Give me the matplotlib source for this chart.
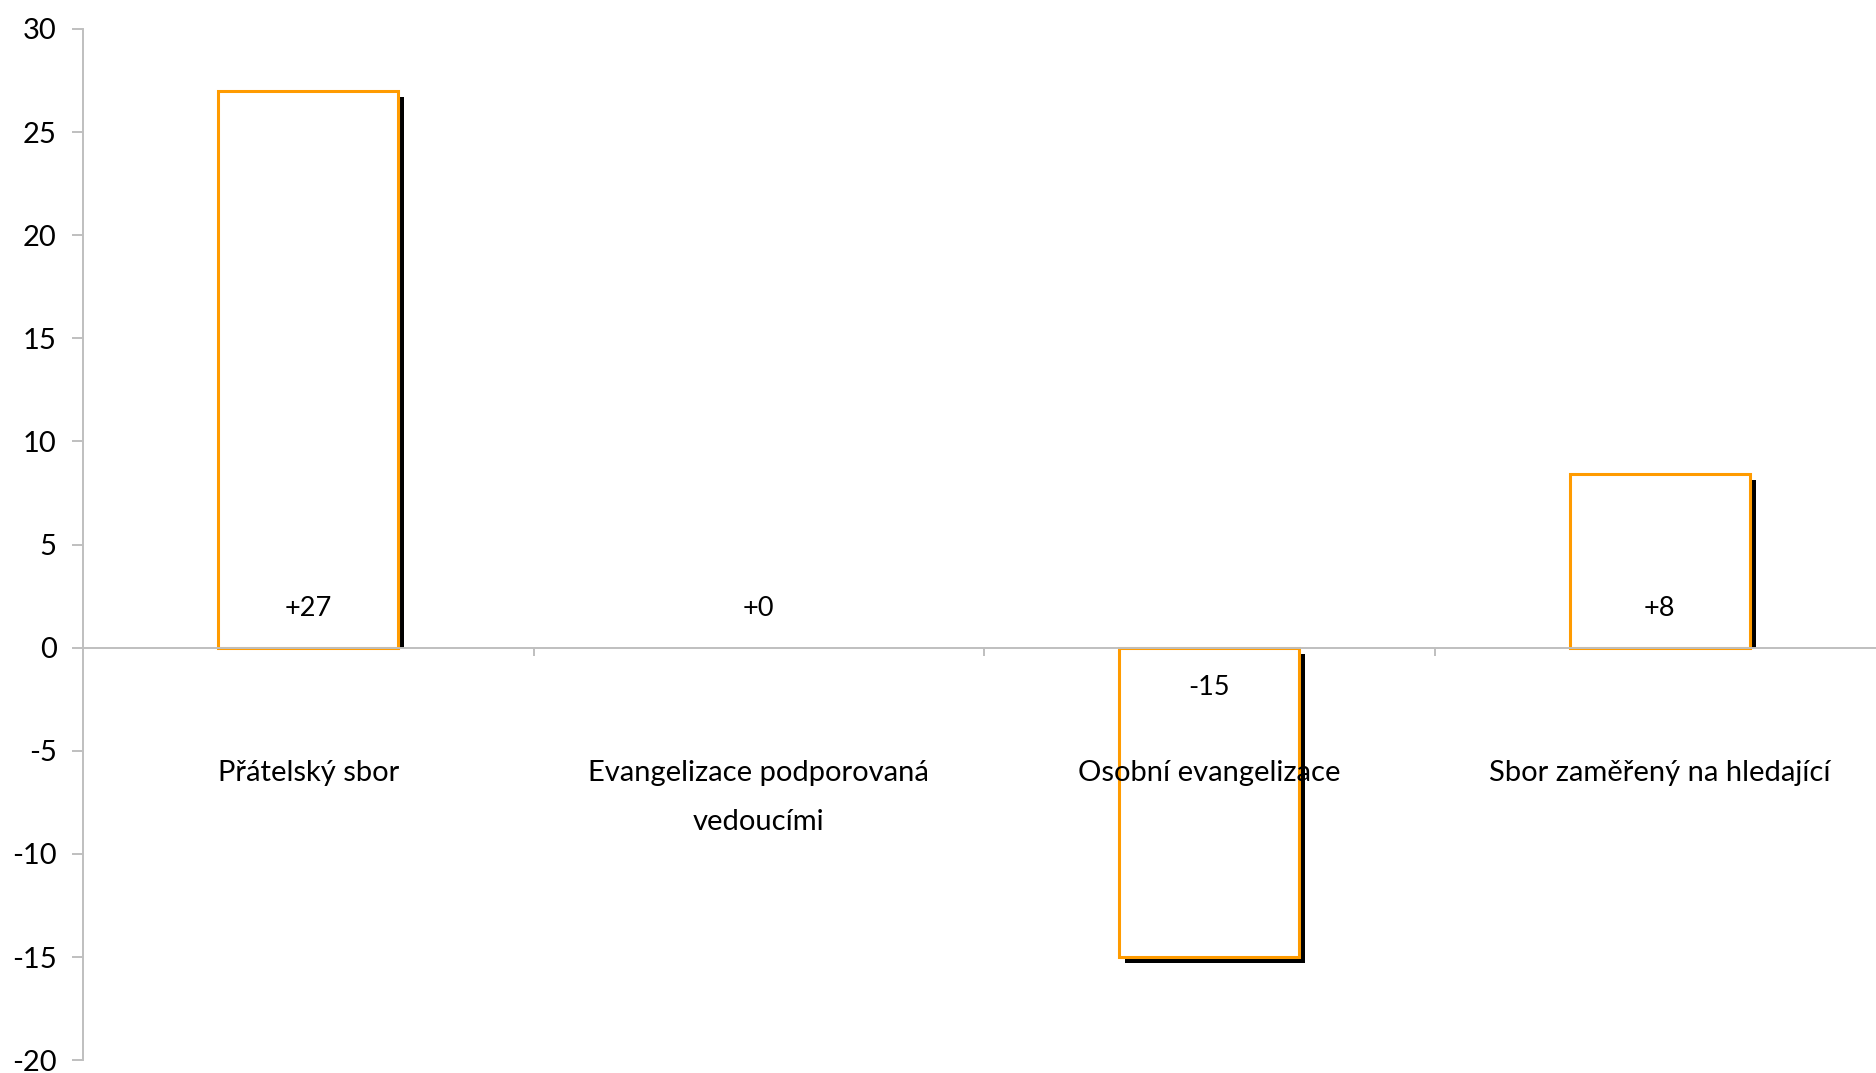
import matplotlib
matplotlib.use("Agg")
import matplotlib.pyplot as plt
import matplotlib.transforms as mtransforms
from matplotlib.patches import Rectangle

categories = [
    "Přátelský sbor",
    "Evangelizace podporovaná\nvedoucími",
    "Osobní evangelizace",
    "Sbor zaměřený na hledající",
]
values = [27, 0, -15, 8.4]
yticks = [-20, -15, -10, -5, 0, 5, 10, 15, 20, 25, 30]

orange = "#ff9b00"
grey = "#bfbfbf"

plt.rcParams["font.family"] = ["Lato", "DejaVu Sans"]
plt.rcParams["axes.unicode_minus"] = False

fig = plt.figure(figsize=(18.76, 10.73), dpi=100)
ax = fig.add_axes([0.0443, 0.012, 0.9605, 0.961])

x = list(range(len(values)))
width = 0.40

# drop shadow, shifted right and down by a few pixels
shadow_offset = mtransforms.ScaledTranslation(6 / 100, -6 / 100, fig.dpi_scale_trans)
shadows = ax.bar(x, values, width, color="black", linewidth=0,
                 transform=ax.transData + shadow_offset, zorder=2)
above_zero = Rectangle((-1, 0), 6, 100, transform=ax.transData)
for s, v in zip(shadows, values):
    if v > 0:
        s.set_clip_path(above_zero)
    if v == 0:
        s.set_visible(False)

bars = ax.bar(x, values, width, facecolor="white", edgecolor=orange,
              linewidth=2.2, zorder=3)
for b, v in zip(bars, values):
    if v == 0:
        b.set_visible(False)

# value labels near the zero line
for i, v in enumerate(values):
    off = -40 if v < 0 else 39
    ax.annotate(f"{v:+.0f}", xy=(i, 0), xytext=(0, off * 0.72),
                textcoords="offset points", ha="center", va="center",
                fontsize=19.5, zorder=5)

# category labels below the zero line
for i, c in enumerate(categories):
    ax.annotate(c, xy=(i, 0), xytext=(0, -112 * 0.72),
                textcoords="offset points", ha="center", va="top",
                fontsize=21, linespacing=2.1, zorder=6)

ax.set_xlim(-0.5, len(values) - 0.5)
ax.set_ylim(-20, 30)
ax.set_yticks(yticks)
ax.set_xticks([0.5, 1.5, 2.5])
ax.set_xticklabels([])

for side in ["top", "right"]:
    ax.spines[side].set_visible(False)
ax.spines["bottom"].set_position(("data", 0))
ax.spines["bottom"].set_color(grey)
ax.spines["left"].set_color(grey)
ax.spines["bottom"].set_linewidth(1.4)
ax.spines["left"].set_linewidth(1.4)
ax.spines["bottom"].set_zorder(4)

ax.tick_params(axis="y", colors=grey, labelcolor="black", labelsize=21,
               length=8, width=1.4, pad=11)
ax.tick_params(axis="x", colors=grey, length=6, width=1.4)

fig.savefig("out.png", dpi=100)
